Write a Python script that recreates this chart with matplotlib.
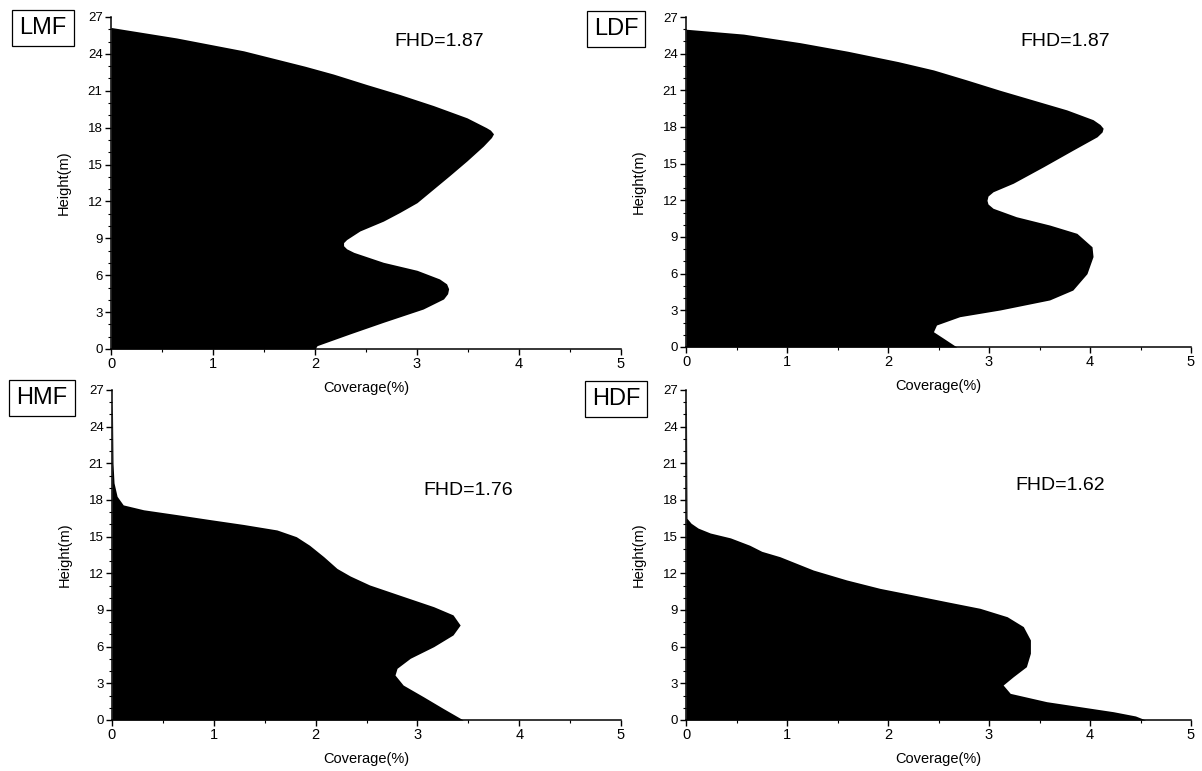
import matplotlib
matplotlib.use('Agg')
import matplotlib.pyplot as plt
from matplotlib.ticker import MultipleLocator

plt.rcParams['font.family'] = ['Liberation Sans', 'DejaVu Sans']

# height (m) and coverage (%)
lmf_h = [0, 0.27, 1.22, 2.17, 3.25, 4.07, 4.5, 4.9, 5.3, 5.7, 6.4, 7.05, 7.86, 8.15, 8.4,
         8.65, 8.9, 9.6, 10.4, 11.1, 11.9, 13.0, 14.1, 15.3, 16.5, 17.2, 17.5, 17.8, 18.0,
         18.8, 19.8, 20.7, 21.5, 22.36, 23.0, 24.25, 25.3, 26.15]
lmf_x = [2.00, 2.02, 2.34, 2.67, 3.06, 3.26, 3.30, 3.31, 3.29, 3.22, 3.00, 2.67, 2.38, 2.31,
         2.28, 2.28, 2.31, 2.44, 2.67, 2.83, 3.00, 3.16, 3.32, 3.49, 3.65, 3.73, 3.75, 3.72,
         3.68, 3.49, 3.16, 2.83, 2.51, 2.18, 1.90, 1.30, 0.64, 0.0]

ldf_h = [0, 0.71, 1.25, 1.8, 2.48, 3.03, 3.85, 4.66, 6.0, 7.4, 8.2, 9.3, 9.98, 10.66, 11.35,
         11.7, 12.0, 12.35, 12.7, 13.4, 14.75, 16.1, 17.2, 17.6, 17.9, 18.2, 18.6, 19.4,
         20.2, 21.0, 21.85, 22.67, 23.35, 24.2, 24.9, 25.6, 26.0]
ldf_x = [2.68, 2.55, 2.45, 2.48, 2.71, 3.11, 3.60, 3.83, 3.97, 4.03, 4.02, 3.87, 3.60, 3.27,
         3.04, 2.99, 2.98, 2.99, 3.04, 3.24, 3.54, 3.83, 4.07, 4.12, 4.13, 4.10, 4.03, 3.77,
         3.44, 3.11, 2.78, 2.45, 2.10, 1.60, 1.13, 0.57, 0.0]

hmf_h = [0, 0.96, 1.9, 2.86, 3.68, 4.23, 5.05, 6.0, 6.96, 7.77, 8.6, 9.27, 10.2, 11.05,
         11.78, 12.4, 13.36, 14.3, 15.0, 15.55, 16.0, 16.4, 16.8, 17.2, 17.6, 18.3, 19.4,
         21.0, 25.0, 26.0]
hmf_x = [3.45, 3.25, 3.06, 2.86, 2.78, 2.80, 2.93, 3.16, 3.35, 3.42, 3.35, 3.16, 2.83, 2.53,
         2.34, 2.21, 2.08, 1.94, 1.81, 1.62, 1.29, 0.96, 0.64, 0.31, 0.11, 0.05, 0.02,
         0.01, 0.005, 0.0]

hdf_h = [0, 0.33, 0.68, 1.09, 1.5, 2.18, 2.86, 3.54, 4.36, 5.46, 6.55, 7.64, 8.45, 9.14,
         9.68, 10.23, 10.77, 11.46, 12.27, 13.36, 13.8, 14.3, 14.9, 15.3, 15.7, 16.1, 16.5,
         25.0, 26.0]
hdf_x = [4.55, 4.45, 4.23, 3.90, 3.57, 3.21, 3.14, 3.24, 3.37, 3.41, 3.41, 3.34, 3.18, 2.91,
         2.58, 2.25, 1.92, 1.59, 1.26, 0.93, 0.75, 0.63, 0.44, 0.24, 0.12, 0.05, 0.01,
         0.005, 0.0]

names = ['LMF', 'LDF', 'HMF', 'HDF']
fhd = ['FHD=1.87', 'FHD=1.87', 'FHD=1.76', 'FHD=1.62']
fhd_pos = [(3.22, 25.0), (3.75, 25.0), (3.5, 18.8), (3.7, 19.2)]
profiles = [(lmf_h, lmf_x), (ldf_h, ldf_x), (hmf_h, hmf_x), (hdf_h, hdf_x)]

W, H = 1202, 771
fig = plt.figure(figsize=(W / 100, H / 100), dpi=100)

# axes boxes in pixels: left, top, right, bottom
boxes = [(111, 17, 621, 349), (686, 17, 1191, 347),
         (112, 390, 621, 720), (686, 390, 1191, 720)]
# boxed label positions (pixel centres)
label_pos = [(43, 28), (616, 29), (42, 398), (616, 399)]

for i in range(4):
    l, t, r, b = boxes[i]
    ax = fig.add_axes([l / W, 1 - b / H, (r - l) / W, (b - t) / H])
    ax.patch.set_alpha(0)  # keep the upper x labels visible
    h, x = profiles[i]
    ax.fill_betweenx(h, 0, x, color='black', linewidth=0)
    ax.set_xlim(0, 5)
    ax.set_ylim(0, 27)
    ax.xaxis.set_major_locator(MultipleLocator(1))
    ax.xaxis.set_minor_locator(MultipleLocator(0.5))
    ax.yaxis.set_major_locator(MultipleLocator(3))
    ax.yaxis.set_minor_locator(MultipleLocator(1))
    ax.spines['top'].set_visible(False)
    ax.spines['right'].set_visible(False)
    ax.spines['left'].set_linewidth(1.1)
    ax.spines['bottom'].set_linewidth(1.1)
    ax.tick_params(which='major', direction='out', length=4, width=1, pad=2)
    ax.tick_params(axis='x', which='major', labelsize=10.5)
    ax.tick_params(axis='y', which='major', labelsize=9.5)
    ax.tick_params(which='minor', direction='out', length=2.5, width=0.8)
    ax.set_xlabel('Coverage(%)', fontsize=10.5, labelpad=7)
    ax.set_ylabel('Height(m)', fontsize=10.5, labelpad=12)
    ax.text(fhd_pos[i][0], fhd_pos[i][1], fhd[i], fontsize=14, ha='center', va='center')
    fig.text(label_pos[i][0] / W, 1 - label_pos[i][1] / H, names[i], fontsize=17,
             ha='center', va='center',
             bbox=dict(boxstyle='square,pad=0.3', facecolor='white', edgecolor='black', linewidth=0.9))

fig.savefig('out.png', dpi=100)
